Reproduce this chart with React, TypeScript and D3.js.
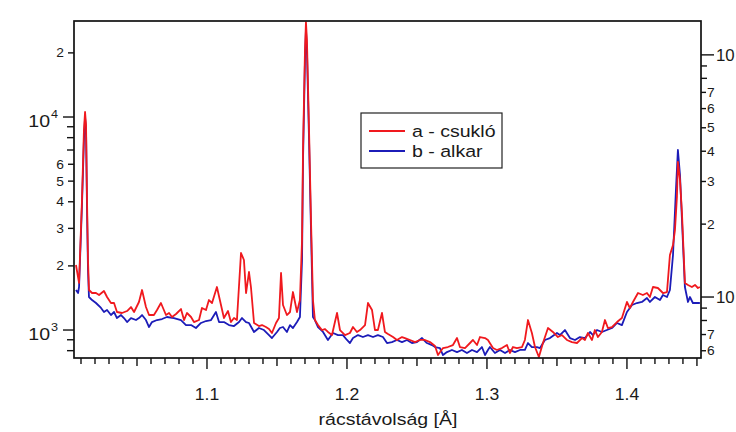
import React from 'react';
import * as d3 from 'd3';

const W = 736;
const H = 432;

// x (Å), intensity
const redSeries: [number, number][] = [
  [1.0064, 2019], [1.0086, 1663], [1.0107, 4076], [1.0121, 8690], [1.0129, 10560], [1.0136, 9180], [1.0143, 4076], [1.015, 2131], [1.0157, 1541], [1.0179, 1492], [1.0207, 1492], [1.0229, 1460], [1.0264, 1525], [1.0286, 1429], [1.0314, 1339], [1.0336, 1339], [1.0357, 1215], [1.0393, 1202], [1.0429, 1228], [1.0457, 1282], [1.0479, 1215], [1.0514, 1354], [1.0536, 1541], [1.0564, 1282], [1.0586, 1176], [1.0621, 1176], [1.0643, 1241], [1.0671, 1339], [1.0707, 1176], [1.0729, 1202], [1.075, 1151], [1.0779, 1189], [1.0814, 1255], [1.0836, 1114], [1.0857, 1202], [1.0886, 1151], [1.0907, 1090], [1.0943, 1114], [1.0964, 1269], [1.0993, 1241], [1.1014, 1383], [1.1036, 1339], [1.1071, 1592], [1.11, 1310], [1.1121, 1138], [1.115, 1228], [1.1171, 1090], [1.1193, 1138], [1.1214, 1114], [1.1243, 2299], [1.1264, 2131], [1.1279, 1492], [1.13, 1872], [1.1314, 1592], [1.1336, 1079], [1.1371, 1044], [1.1393, 1055], [1.1421, 1033], [1.1443, 1011], [1.1464, 968], [1.1493, 1079], [1.1514, 1138], [1.1529, 1852], [1.1543, 1310], [1.1571, 1176], [1.1593, 1215], [1.1614, 1508], [1.1643, 1215], [1.1664, 1383], [1.1679, 2645], [1.1686, 7000], [1.17, 20640], [1.1707, 27900], [1.1714, 22970], [1.1729, 8690], [1.1743, 3283], [1.1757, 1383], [1.1771, 1114], [1.1793, 1055], [1.1821, 1000], [1.1843, 1011], [1.1864, 979], [1.1893, 947], [1.1914, 1090], [1.1929, 1202], [1.195, 1000], [1.1986, 947], [1.2021, 968], [1.2043, 1033], [1.2071, 979], [1.2093, 1000], [1.2129, 1055], [1.215, 1339], [1.2179, 1241], [1.22, 1000], [1.2221, 1000], [1.225, 1202], [1.2271, 979], [1.2293, 958], [1.2329, 927], [1.2357, 898], [1.2393, 927], [1.2414, 917], [1.245, 898], [1.2486, 878], [1.2521, 898], [1.2557, 898], [1.2593, 878], [1.2629, 841], [1.265, 763], [1.2686, 823], [1.2721, 832], [1.2757, 850], [1.2786, 917], [1.2807, 832], [1.2843, 823], [1.2879, 869], [1.29, 898], [1.2929, 850], [1.295, 927], [1.2986, 917], [1.3007, 898], [1.3043, 823], [1.3071, 806], [1.3107, 823], [1.3143, 850], [1.3164, 780], [1.3186, 832], [1.3214, 823], [1.325, 832], [1.3271, 898], [1.3293, 1114], [1.3321, 968], [1.3343, 832], [1.3371, 747], [1.34, 869], [1.3436, 1022], [1.3471, 979], [1.3507, 927], [1.3536, 947], [1.3571, 898], [1.3607, 878], [1.3643, 869], [1.3679, 917], [1.37, 898], [1.3721, 968], [1.375, 898], [1.3771, 1000], [1.3793, 927], [1.3821, 979], [1.3843, 1114], [1.3864, 1022], [1.3893, 1033], [1.3929, 1090], [1.3964, 1138], [1.4, 1354], [1.4021, 1269], [1.4043, 1354], [1.4079, 1492], [1.4114, 1460], [1.4143, 1492], [1.4164, 1429], [1.4186, 1592], [1.4221, 1575], [1.4257, 1492], [1.4286, 1508], [1.4307, 2250], [1.4329, 2507], [1.4343, 2947], [1.4357, 4210], [1.4364, 6150], [1.4379, 5060], [1.4393, 3541], [1.4414, 1663], [1.4436, 1627], [1.4464, 1592], [1.4486, 1627], [1.4507, 1575], [1.4521, 1592],
];

const blueSeries: [number, number][] = [
  [1.0064, 1541], [1.0079, 1492], [1.0086, 1592], [1.0107, 3863], [1.0121, 7800], [1.0129, 9950], [1.0136, 8690], [1.0143, 3657], [1.015, 1913], [1.0157, 1429], [1.0179, 1383], [1.0207, 1339], [1.0243, 1269], [1.0264, 1215], [1.0286, 1241], [1.0314, 1176], [1.0336, 1215], [1.0357, 1138], [1.0386, 1176], [1.0407, 1138], [1.0429, 1090], [1.0457, 1138], [1.0493, 1114], [1.0514, 1138], [1.0536, 1176], [1.0564, 1114], [1.0586, 1033], [1.0607, 1090], [1.0643, 1114], [1.0679, 1126], [1.0714, 1151], [1.0764, 1138], [1.0814, 1114], [1.085, 1055], [1.0886, 1055], [1.0921, 1022], [1.0957, 1079], [1.0993, 1102], [1.1029, 1114], [1.1064, 1215], [1.1086, 1090], [1.1121, 1090], [1.1157, 1055], [1.1193, 1044], [1.1229, 1090], [1.125, 1138], [1.1279, 1090], [1.13, 1079], [1.1336, 979], [1.1371, 1022], [1.1407, 1000], [1.1443, 947], [1.1464, 917], [1.15, 979], [1.1521, 1022], [1.1543, 1033], [1.1571, 979], [1.1593, 1055], [1.1614, 1022], [1.1643, 1090], [1.1664, 1151], [1.1679, 2131], [1.1686, 6283], [1.17, 18500], [1.1707, 25620], [1.1714, 20640], [1.1729, 7800], [1.1743, 2947], [1.1757, 1151], [1.1771, 1114], [1.1793, 1033], [1.1829, 979], [1.1864, 898], [1.19, 968], [1.1936, 947], [1.1971, 947], [1.2, 898], [1.2021, 869], [1.2043, 917], [1.2079, 947], [1.2114, 927], [1.215, 947], [1.2186, 927], [1.2221, 947], [1.2257, 927], [1.2286, 869], [1.2321, 878], [1.2357, 898], [1.2393, 878], [1.2429, 898], [1.2464, 869], [1.25, 878], [1.2536, 917], [1.2571, 869], [1.2607, 850], [1.2629, 832], [1.2664, 823], [1.2686, 763], [1.2714, 788], [1.275, 806], [1.2786, 788], [1.2821, 806], [1.2857, 780], [1.2893, 806], [1.2929, 788], [1.2964, 832], [1.2986, 763], [1.3007, 806], [1.3021, 832], [1.3057, 780], [1.3093, 806], [1.3129, 780], [1.3164, 806], [1.32, 788], [1.3236, 806], [1.3271, 806], [1.3293, 869], [1.3321, 832], [1.3357, 832], [1.3379, 823], [1.3414, 898], [1.345, 917], [1.35, 968], [1.3521, 947], [1.3557, 1000], [1.3593, 917], [1.3629, 898], [1.3664, 927], [1.37, 917], [1.3736, 979], [1.3757, 947], [1.3786, 1000], [1.3821, 979], [1.3857, 1000], [1.3893, 1022], [1.3929, 1079], [1.3964, 1055], [1.4, 1215], [1.4036, 1310], [1.4071, 1339], [1.4107, 1354], [1.4143, 1413], [1.4164, 1354], [1.42, 1429], [1.4236, 1383], [1.4257, 1460], [1.4286, 1429], [1.4307, 1541], [1.4329, 2250], [1.435, 4543], [1.4364, 7000], [1.4379, 5342], [1.4393, 3283], [1.4414, 1592], [1.4436, 1354], [1.445, 1429], [1.4471, 1339], [1.4507, 1339], [1.4521, 1339],
];

const seriesNames = ['a - csukló', 'b - alkar'];
const seriesColors = ['#f0191e', '#1c1cb8'];

const xDomain: [number, number] = [1.005, 1.4529];
const yDomain: [number, number] = [739, 28230];
const yRightDomain: [number, number] = [56, 1380];

const xMajorTicks = [1.1, 1.2, 1.3, 1.4];
const xMajorLabels = ['1.1', '1.2', '1.3', '1.4'];
const xTitle = 'rácstávolság [Å]';

// left axis
const leftDecades = [1000, 10000];
const leftDecadeSup = ['3', '4'];
const leftDigitTicks = [2000, 3000, 4000, 5000, 6000, 20000];
const leftDigitLabels = ['2', '3', '4', '5', '6', '2'];
const leftMinorTicks = [800, 900, 7000, 8000, 9000];

// right axis
const rightDecades = [100, 1000];
const rightDecadeLabels = ['10', '10'];
const rightDigitTicks = [60, 70, 200, 300, 400, 500, 600, 700];
const rightDigitLabels = ['6', '7', '2', '3', '4', '5', '6', '7'];
const rightMinorTicks = [80, 90, 800, 900];

const FONT = "'Liberation Sans', Arial, Helvetica, sans-serif";
const TXT = '#1a1a1a';

function T({ x, y, size, anchor = 'start', sx = 1.15, children }: any) {
  return (
    <text
      transform={`translate(${x},${y}) scale(${sx},1)`}
      textAnchor={anchor}
      fontSize={size}
      fontFamily={FONT}
      fill={TXT}
    >
      {children}
    </text>
  );
}

export default function App() {
  const L = 74, R = 701, TOP = 21, B = 358;
  const x = d3.scaleLinear().domain(xDomain).range([L, R]);
  const y = d3.scaleLog().domain(yDomain).range([B, TOP]);
  const yR = d3.scaleLog().domain(yRightDomain).range([B, TOP]);

  const line = d3
    .line<[number, number]>()
    .x((d) => x(d[0]))
    .y((d) => y(d[1]));

  const minorX = d3.range(101, 146).map((i) => i / 100);

  return (
    <svg
      width={W}
      height={H}
      style={{ position: 'absolute', left: 0, top: 0, background: '#fff' }}
    >
      <defs>
        <clipPath id="plot">
          <rect x={L} y={TOP} width={R - L} height={B - TOP} />
        </clipPath>
      </defs>
      <rect x={0} y={0} width={W} height={H} fill="#fff" />

      <g clipPath="url(#plot)" fill="none" strokeWidth={1.8} strokeLinejoin="round">
        <path d={line(blueSeries) || ''} stroke={seriesColors[1]} />
        <path d={line(redSeries) || ''} stroke={seriesColors[0]} />
      </g>

      {/* frame */}
      <rect x={L} y={TOP} width={R - L} height={B - TOP} fill="none" stroke="#111" strokeWidth={1.7} />

      {/* x ticks */}
      <g stroke="#111" strokeWidth={1.4}>
        {minorX.map((v, i) => {
          const isMajor = Math.abs(v * 10 - Math.round(v * 10)) < 1e-6;
          const isMid = !isMajor && Math.abs(v * 20 - Math.round(v * 20)) < 1e-6;
          const len = isMajor ? 11 : isMid ? 8 : 6;
          return <line key={i} x1={x(v)} x2={x(v)} y1={B} y2={B + len} />;
        })}
      </g>
      {xMajorTicks.map((v, i) => (
        <T key={i} x={x(v)} y={400} size={16} anchor="middle" sx={1.1}>
          {xMajorLabels[i]}
        </T>
      ))}
      <T x={388} y={425} size={17} anchor="middle">
        {xTitle}
      </T>

      {/* left axis */}
      <g stroke="#111" strokeWidth={1.4}>
        {leftDecades.map((v, i) => (
          <line key={'d' + i} x1={L - 11} x2={L} y1={y(v)} y2={y(v)} />
        ))}
        {leftDigitTicks.map((v, i) => (
          <line key={'g' + i} x1={L - 6} x2={L} y1={y(v)} y2={y(v)} />
        ))}
        {leftMinorTicks.map((v, i) => (
          <line key={'m' + i} x1={L - 7} x2={L} y1={y(v)} y2={y(v)} />
        ))}
      </g>
      {leftDecades.map((v, i) => (
        <g key={'dl' + i}>
          <T x={50} y={y(v) + 10} size={17} anchor="end">
            10
          </T>
          <T x={51} y={y(v) + 1} size={11}>
            {leftDecadeSup[i]}
          </T>
        </g>
      ))}
      {leftDigitTicks.map((v, i) => (
        <T key={'gl' + i} x={64} y={y(v) + 4.5} size={12} anchor="end">
          {leftDigitLabels[i]}
        </T>
      ))}

      {/* right axis */}
      <g stroke="#111" strokeWidth={1.4}>
        {rightDecades.map((v, i) => (
          <line key={'rd' + i} x1={R} x2={R + 13} y1={yR(v)} y2={yR(v)} />
        ))}
        {rightDigitTicks.map((v, i) => (
          <line key={'rg' + i} x1={R} x2={R + 5} y1={yR(v)} y2={yR(v)} />
        ))}
        {rightMinorTicks.map((v, i) => (
          <line key={'rm' + i} x1={R} x2={R + 6} y1={yR(v)} y2={yR(v)} />
        ))}
      </g>
      {rightDecades.map((v, i) => (
        <T key={'rdl' + i} x={716} y={yR(v) + 6} size={16} sx={1.05}>
          {rightDecadeLabels[i]}
        </T>
      ))}
      {rightDigitTicks.map((v, i) => (
        <T key={'rgl' + i} x={707} y={yR(v) + 4.5} size={12}>
          {rightDigitLabels[i]}
        </T>
      ))}

      {/* legend */}
      <rect x={361} y={113} width={141} height={55} fill="#fff" stroke="#222" strokeWidth={1.2} />
      {seriesNames.map((name, i) => (
        <g key={'lg' + i}>
          <line
            x1={369}
            x2={405}
            y1={131 + i * 20}
            y2={131 + i * 20}
            stroke={seriesColors[i]}
            strokeWidth={1.8}
          />
          <T x={412} y={137 + i * 20} size={17}>
            {name}
          </T>
        </g>
      ))}
    </svg>
  );
}
